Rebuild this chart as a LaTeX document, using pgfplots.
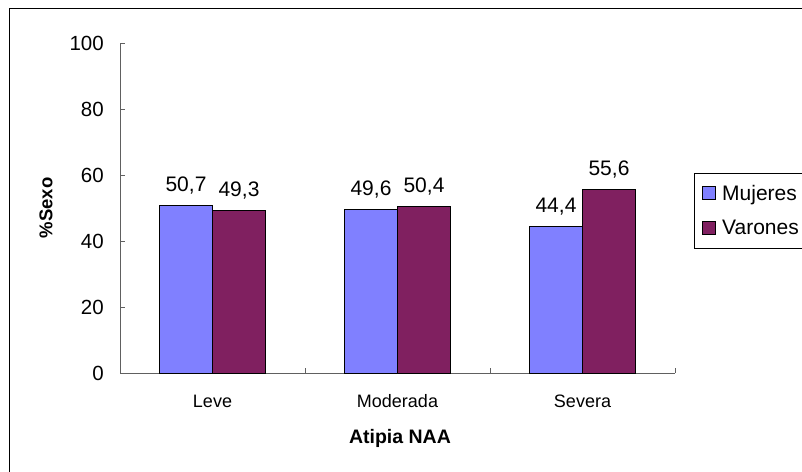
\documentclass[border=0pt]{standalone}
\usepackage{pgfplots}
\pgfplotsset{compat=1.18}
\usepackage{fontspec}
\setmainfont{Liberation Sans}
\definecolor{muj}{HTML}{8080FF}
\definecolor{var}{HTML}{802060}
\definecolor{axgray}{HTML}{606060}
\begin{document}
\begin{tikzpicture}[x=1pt,y=1pt]
\useasboundingbox (0,0) rectangle (802,471);
\draw[line width=1.2pt,black] (9.5,-20) -- (9.5,462.5) -- (830,462.5);
\begin{axis}[
  at={(120pt,98pt)}, anchor=south west,
  scale only axis, width=555pt, height=330pt,
  ybar=0pt, bar width=53pt,
  xmin=0, xmax=3, ymin=0, ymax=100,
  axis x line*=bottom, axis y line*=left,
  axis line style={axgray, line width=0.9pt},
  tick style={axgray, line width=0.9pt},
  tick align=inside, major tick length=5pt,
  xtick={0,1,2,3}, xticklabels={},
  extra x ticks={0.5,1.5,2.5},
  extra x tick labels={Leve,Moderada,Severa},
  extra x tick style={major tick length=0pt,
    xticklabel style={anchor=base, inner sep=0pt, yshift=-34pt, font=\fontsize{18}{20}\selectfont}},
  ytick={0,20,40,60,80,100},
  /pgf/number format/assume math mode=true,
  yticklabel style={anchor=east, inner sep=0pt, xshift=-16pt, font=\fontsize{20.5}{22}\selectfont},
  xlabel={\textbf{Atipia NAA}},
  xlabel style={at={(axis description cs:0.5045,0)}, anchor=base, inner sep=0pt, yshift=-70pt, font=\fontsize{19.5}{22}\selectfont},
  ylabel={\textbf{\%Sexo}},
  ylabel style={at={(axis description cs:-0.1333,0.5)}, anchor=center, inner sep=0pt, font=\fontsize{18.5}{22}\selectfont},
  nodes near coords,
  nodes near coords style={/pgf/number format/use comma, /pgf/number format/fixed, /pgf/number format/fixed zerofill, /pgf/number format/precision=1, anchor=base, inner sep=0pt, yshift=14pt, black, font=\fontsize{21}{23}\selectfont},
  legend style={at={(axis description cs:1.0342,0.606)}, anchor=north west,
    draw=black, line width=0.8pt, font=\fontsize{21}{24}\selectfont,
    inner xsep=8pt, inner ysep=10pt, row sep=14pt,
    /tikz/every even column/.append style={column sep=2pt},
    /tikz/every odd column/.append style={column sep=4pt}},
  legend cell align=left,
  legend image code/.code={\draw[#1,draw=black,line width=0.8pt] (0pt,-6pt) rectangle (13pt,7pt);},
]
\addplot[fill=muj, draw=black, line width=0.8pt] coordinates {(0.5,50.7) (1.5,49.6) (2.5,44.4)};
\addplot[fill=var, draw=black, line width=0.8pt] coordinates {(0.5,49.3) (1.5,50.4) (2.5,55.6)};
\legend{Mujeres,Varones}
\end{axis}
\end{tikzpicture}
\end{document}
